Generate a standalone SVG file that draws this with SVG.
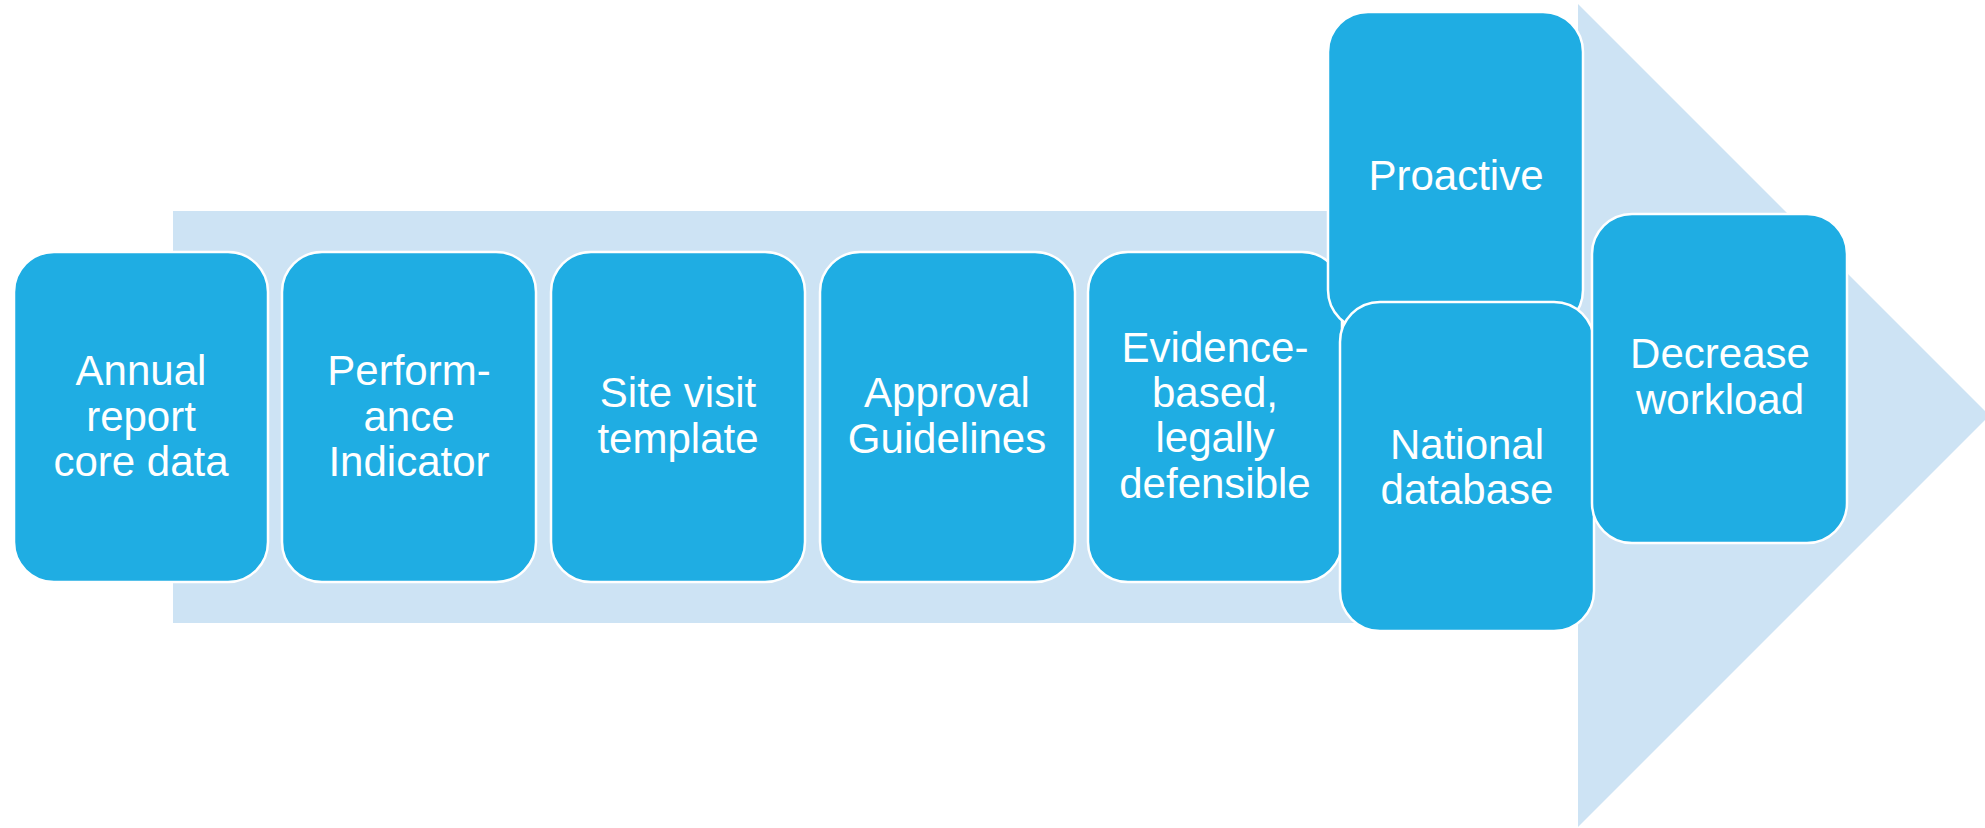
<svg xmlns="http://www.w3.org/2000/svg" width="1985" height="828" viewBox="0 0 1985 828">
<style>
.box{fill:#1FADE3;stroke:#FFFFFF;stroke-width:2.5}
.lbl{font-family:"Liberation Sans",Arial,sans-serif;font-size:42px;fill:#FFFFFF;text-anchor:middle}
</style>
<rect x="0" y="0" width="1985" height="828" fill="#FFFFFF"/>
<g id="arrow">
<rect x="173" y="211" width="1410" height="412" fill="#CDE3F4"/>
<polygon points="1578,4 1985,411 1985,420 1578,827" fill="#CDE3F4"/>
</g>
<g id="connectors"></g>
<g id="n1"><rect class="box" x="14" y="252" width="254" height="330" rx="40" ry="40"/>
<text class="lbl" x="141"><tspan x="141" y="385">Annual</tspan><tspan x="141" y="431">report</tspan><tspan x="141" y="476">core data</tspan></text></g>
<g id="n2"><rect class="box" x="282" y="252" width="254" height="330" rx="40" ry="40"/>
<text class="lbl"><tspan x="409" y="385">Perform-</tspan><tspan x="409" y="431">ance</tspan><tspan x="409" y="476">Indicator</tspan></text></g>
<g id="n3"><rect class="box" x="551" y="252" width="254" height="330" rx="40" ry="40"/>
<text class="lbl"><tspan x="678" y="407">Site visit</tspan><tspan x="678" y="453">template</tspan></text></g>
<g id="n4"><rect class="box" x="820" y="252" width="255" height="330" rx="40" ry="40"/>
<text class="lbl"><tspan x="947" y="407">Approval</tspan><tspan x="947" y="453">Guidelines</tspan></text></g>
<g id="n5"><rect class="box" x="1088" y="252" width="254" height="330" rx="40" ry="40"/>
<text class="lbl"><tspan x="1215" y="362">Evidence-</tspan><tspan x="1215" y="407">based,</tspan><tspan x="1215" y="452">legally</tspan><tspan x="1215" y="498">defensible</tspan></text></g>
<g id="n6"><rect class="box" x="1328" y="12" width="255" height="318" rx="40" ry="40"/>
<text class="lbl"><tspan x="1456" y="190">Proactive</tspan></text></g>
<g id="n7"><rect class="box" x="1340" y="302" width="254" height="329" rx="40" ry="40"/>
<text class="lbl"><tspan x="1467" y="459">National</tspan><tspan x="1467" y="504">database</tspan></text></g>
<g id="n8"><rect class="box" x="1592" y="214" width="255" height="329" rx="40" ry="40"/>
<text class="lbl"><tspan x="1720" y="368">Decrease</tspan><tspan x="1720" y="414">workload</tspan></text></g>
</svg>
